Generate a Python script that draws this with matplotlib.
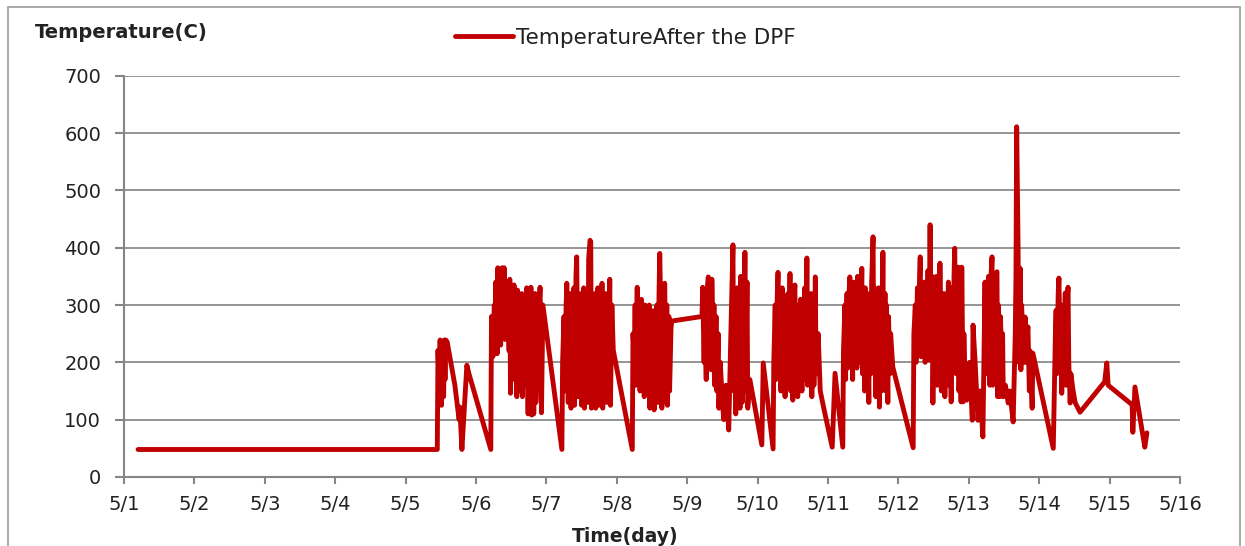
import matplotlib.pyplot as plt
from matplotlib.patches import Rectangle

# time in days since 5/1 00:00, temperature after the DPF in C
days = [
    0.20, 4.44,
    # 5/5 - 5/6
    4.45, 4.46, 4.48, 4.49, 4.51, 4.52, 4.54, 4.55, 4.56, 4.57, 4.59, 4.70, 4.76, 4.77, 4.80, 4.87, 4.90, 5.21,
    # 5/6 - 5/7
    5.22, 5.24, 5.26, 5.27, 5.28, 5.30, 5.31, 5.33, 5.34, 5.35, 5.37, 5.38, 5.40, 5.41, 5.42, 5.44, 5.45, 5.47,
    5.48, 5.49, 5.51, 5.52, 5.54, 5.55, 5.56, 5.58, 5.59, 5.61, 5.62, 5.63, 5.65, 5.66, 5.68, 5.70, 5.72, 5.74,
    5.75, 5.76, 5.78, 5.79, 5.81, 5.82, 5.84, 5.85, 5.88, 5.91, 5.93, 5.95, 6.22,
    # 5/7 - 5/8
    6.23, 6.25, 6.26, 6.28, 6.29, 6.31, 6.32, 6.33, 6.35, 6.36, 6.38, 6.39, 6.40, 6.42, 6.43, 6.45, 6.46, 6.47,
    6.49, 6.50, 6.52, 6.53, 6.54, 6.56, 6.57, 6.59, 6.60, 6.62, 6.63, 6.64, 6.66, 6.67, 6.69, 6.70, 6.71, 6.73,
    6.74, 6.76, 6.77, 6.79, 6.80, 6.81, 6.83, 6.84, 6.86, 6.87, 6.88, 6.90, 6.91, 6.93, 6.95, 7.22,
    # 5/8 - 5/9
    7.23, 7.25, 7.26, 7.27, 7.29, 7.30, 7.32, 7.33, 7.35, 7.36, 7.37, 7.39, 7.40, 7.42, 7.43, 7.44, 7.46, 7.47,
    7.49, 7.50, 7.51, 7.53, 7.54, 7.56, 7.57, 7.58, 7.60, 7.61, 7.63, 7.64, 7.65, 7.67, 7.68, 7.70, 7.71, 7.72,
    7.74, 7.75, 7.77, 7.78, 8.21,
    # 5/9 - 5/10
    8.22, 8.24, 8.25, 8.27, 8.28, 8.30, 8.31, 8.32, 8.34, 8.35, 8.37, 8.38, 8.39, 8.41, 8.42, 8.44, 8.45, 8.47,
    8.50, 8.52, 8.55, 8.59, 8.62, 8.65, 8.66, 8.68, 8.69, 8.71, 8.72, 8.73, 8.75, 8.76, 8.78, 8.79, 8.80, 8.82,
    8.83, 8.85, 8.86, 8.89, 9.06, 9.08, 9.22,
    # 5/10 - 5/11
    9.23, 9.25, 9.26, 9.28, 9.29, 9.31, 9.32, 9.33, 9.35, 9.36, 9.38, 9.39, 9.40, 9.42, 9.43, 9.45, 9.46, 9.47,
    9.49, 9.50, 9.52, 9.53, 9.54, 9.56, 9.57, 9.59, 9.60, 9.61, 9.63, 9.64, 9.66, 9.67, 9.69, 9.70, 9.71, 9.73,
    9.74, 9.76, 9.77, 9.79, 9.80, 9.82, 9.83, 9.86, 9.89, 9.94, 10.06, 10.10, 10.21,
    # 5/11 - 5/12
    10.22, 10.24, 10.25, 10.27, 10.28, 10.29, 10.31, 10.32, 10.34, 10.35, 10.36, 10.38, 10.39, 10.41, 10.42,
    10.44, 10.45, 10.46, 10.48, 10.49, 10.51, 10.52, 10.53, 10.55, 10.56, 10.58, 10.59, 10.61, 10.62, 10.64,
    10.65, 10.66, 10.68, 10.69, 10.71, 10.72, 10.73, 10.75, 10.76, 10.78, 10.79, 10.81, 10.82, 10.83, 10.85,
    10.86, 10.88, 10.89, 10.92, 11.21,
    # 5/12 - 5/13
    11.22, 11.24, 11.25, 11.27, 11.28, 11.29, 11.31, 11.32, 11.34, 11.35, 11.37, 11.38, 11.39, 11.41, 11.42,
    11.44, 11.45, 11.46, 11.48, 11.49, 11.51, 11.52, 11.54, 11.55, 11.56, 11.58, 11.59, 11.61, 11.62, 11.63,
    11.65, 11.66, 11.68, 11.69, 11.71, 11.72, 11.73, 11.75, 11.76, 11.78, 11.79, 11.80, 11.82, 11.83, 11.85,
    11.86, 11.88, 11.89, 11.90, 11.92, 11.93, 11.95, 11.97, 12.01, 12.05, 12.06, 12.09, 12.13, 12.16, 12.20,
    # 5/13 - 5/14
    12.23, 12.24, 12.25, 12.27, 12.28, 12.30, 12.31, 12.33, 12.34, 12.35, 12.37, 12.38, 12.40, 12.41, 12.42,
    12.44, 12.45, 12.47, 12.48, 12.49, 12.52, 12.56, 12.58, 12.60, 12.63, 12.66, 12.67, 12.68, 12.70, 12.71,
    12.73, 12.74, 12.75, 12.77, 12.78, 12.80, 12.81, 12.83, 12.84, 12.86, 12.87, 12.90, 12.91, 13.20,
    # 5/14 - 5/16
    13.23, 13.24, 13.25, 13.27, 13.28, 13.30, 13.31, 13.32, 13.34, 13.35, 13.37, 13.38, 13.39, 13.41, 13.42,
    13.44, 13.45, 13.48, 13.51, 13.58, 13.93, 13.96, 13.98, 14.32, 14.33, 14.36, 14.50, 14.53,
]

temps = [
    48, 48,
    48, 221, 150, 239, 125, 230, 140, 239, 170, 239, 236, 160, 100, 122, 48, 195, 180, 48,
    280, 210, 300, 230, 340, 215, 365, 250, 350, 230, 365, 260, 365, 240, 330, 290, 340, 220,
    345, 146, 320, 200, 335, 170, 310, 140, 326, 200, 300, 150, 320, 140, 290, 160, 330, 110,
    310, 120, 331, 108, 280, 110, 320, 130, 250, 331, 112, 300, 48,
    200, 280, 150, 300, 338, 130, 260, 320, 120, 300, 180, 330, 125, 350, 384, 140, 300, 200,
    320, 125, 280, 330, 120, 250, 300, 130, 380, 413, 410, 120, 300, 200, 320, 120, 280, 330,
    125, 310, 200, 338, 120, 300, 180, 320, 130, 290, 150, 345, 125, 300, 221, 48,
    250, 200, 300, 160, 331, 180, 290, 150, 310, 200, 280, 140, 300, 190, 285, 150, 300, 120,
    270, 170, 290, 117, 280, 150, 300, 130, 320, 390, 250, 120, 300, 140, 338, 130, 300, 125,
    280, 150, 260, 272, 280,
    331, 200, 300, 170, 320, 349, 190, 340, 187, 345, 220, 300, 160, 280, 150, 250, 120, 200,
    130, 100, 160, 82, 250, 405, 150, 300, 110, 330, 140, 300, 120, 350, 130, 330, 160, 392,
    150, 340, 120, 170, 56, 199, 49,
    200, 300, 170, 320, 357, 180, 300, 150, 330, 200, 310, 140, 300, 160, 320, 190, 355, 150,
    300, 134, 320, 335, 160, 300, 140, 280, 180, 310, 150, 300, 170, 330, 200, 382, 160, 300,
    180, 320, 140, 300, 160, 349, 180, 250, 150, 120, 52, 181, 52,
    220, 300, 170, 320, 190, 300, 349, 200, 320, 170, 340, 200, 330, 190, 350,
    220, 340, 200, 364, 180, 300, 150, 330, 190, 300, 130, 320, 180, 340, 419,
    200, 330, 140, 300, 170, 330, 122, 300, 150, 392, 200, 320, 150, 300, 130,
    280, 180, 250, 192, 51,
    250, 300, 200, 330, 220, 300, 384, 210, 320, 230, 340, 200, 330, 220, 360,
    204, 440, 230, 350, 129, 330, 180, 350, 160, 300, 210, 373, 150, 300, 180,
    320, 140, 280, 200, 340, 160, 300, 131, 330, 200, 350, 399, 180, 340, 366,
    150, 300, 131, 366, 131, 250, 150, 134, 200, 99, 265, 200, 99, 150, 70,
    340, 200, 320, 180, 350, 160, 340, 384, 160, 300, 200, 350, 358, 140, 300,
    140, 280, 180, 250, 140, 160, 129, 150, 130, 96, 250, 350, 611, 400, 200,
    364, 187, 300, 240, 200, 279, 200, 250, 262, 150, 220, 120, 216, 50,
    250, 291, 180, 320, 347, 200, 300, 146, 280, 200, 321, 160, 300, 331, 200,
    129, 180, 152, 130, 113, 166, 199, 160, 126, 78, 157, 52, 77,
]

day_labels = ["5/%d" % d for d in range(1, 17)]
y_ticks = [0, 100, 200, 300, 400, 500, 600, 700]

line_color = "#C00000"
text_color = "#222222"
axis_gray = "#868686"

fig = plt.figure(figsize=(12.45, 5.46), dpi=100)
ax = fig.add_axes([124 / 1245, 1 - 477 / 546, (1180 - 124) / 1245, (477 - 75.7) / 546])

line, = ax.plot(days, temps, color=line_color, lw=3.5, solid_joinstyle="round",
                solid_capstyle="round", label="TemperatureAfter the DPF")

ax.set_xlim(0, 15)
ax.set_ylim(0, 700)
ax.set_xticks(range(len(day_labels)))
ax.set_xticklabels(day_labels)
ax.set_yticks(y_ticks)

ax.grid(axis="y", color="#8c8c8c", lw=1.3)
ax.set_axisbelow(True)
for side in ["top", "right"]:
    ax.spines[side].set_visible(False)
for side in ["left", "bottom"]:
    ax.spines[side].set_color(axis_gray)
    ax.spines[side].set_linewidth(1.5)

ax.tick_params(axis="x", direction="out", length=5, width=1.5, color=axis_gray,
               labelsize=14, labelcolor=text_color, pad=8)
ax.tick_params(axis="y", direction="out", length=6.5, width=1.5, color=axis_gray,
               labelsize=14, labelcolor=text_color, pad=10)

fig.text(35 / 1245, 1 - 33 / 546, "Temperature(C)", fontsize=14, fontweight="bold",
         color=text_color, ha="left", va="center")
fig.text(625 / 1245, 1 - 536 / 546, "Time(day)", fontsize=13.5, fontweight="bold",
         color=text_color, ha="center", va="center")

fig.legend(handles=[line], loc="center left", bbox_to_anchor=(455 / 1245, 1 - 38 / 546),
           frameon=False, fontsize=15.5, handlelength=2.7, handletextpad=0.15,
           borderpad=0, borderaxespad=0, labelcolor=text_color)

# thin frame around the chart
fig.patches.append(Rectangle((8 / 1245, -0.02), (1240 - 8) / 1245, 1.02 - 7 / 546,
                             transform=fig.transFigure, fill=False,
                             edgecolor="#9a9a9a", lw=1.2))

fig.savefig("out.png", dpi=100)
